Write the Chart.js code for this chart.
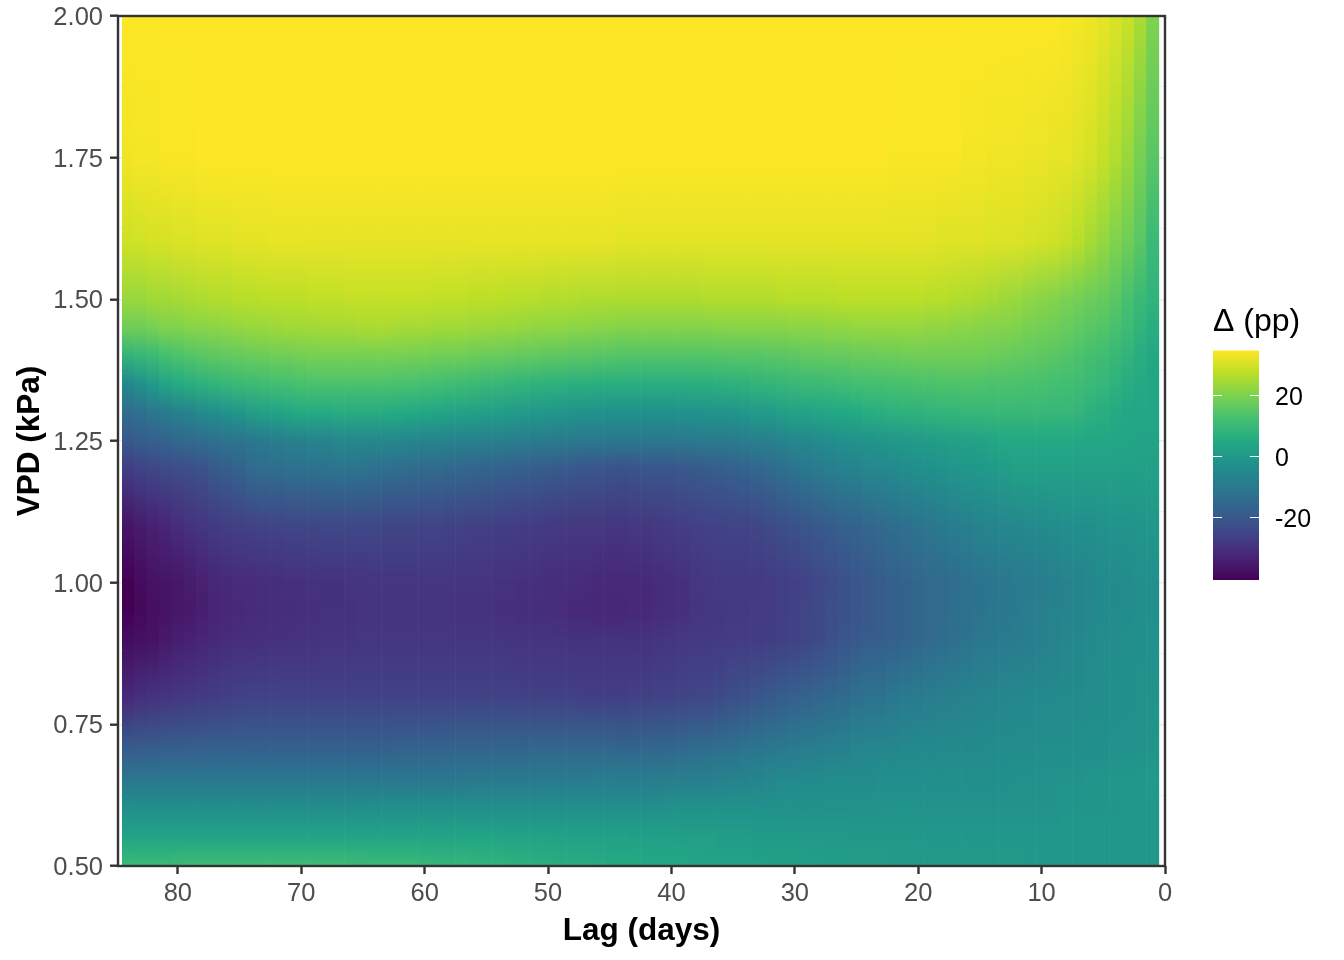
<!DOCTYPE html>
<html>
<head>
<meta charset="utf-8">
<style>
body { margin: 0; background: #fff; }
canvas { position: absolute; }
</style>
<script src="https://cdn.jsdelivr.net/npm/chart.js@4"></script>
</head>
<body>
<canvas id="canvas" width="1344" height="960" style="left:0;top:0"></canvas>
<canvas id="legend" width="154" height="300" style="left:1190px;top:290px"></canvas>
<script>
// lag of each column, left to right
var lags = [84,83,82,81,80,79,78,77,76,75,74,73,72,71,70,69,68,67,66,65,64,63,62,61,60,59,58,57,56,55,54,53,52,51,50,49,48,47,46,45,44,43,42,41,40,39,38,37,36,35,34,33,32,31,30,29,28,27,26,25,24,23,22,21,20,19,18,17,16,15,14,13,12,11,10,9,8,7,6,5,4,3,2,1];

// values, one list per VPD level (pp)
var vpd200 = [34.5,34.5,34.5,34.5,34.5,34.5,34.5,34.5,34.5,34.5, 34.5,34.5,34.5,34.5,34.5,34.5,34.5,34.5,34.5,34.5, 34.5,34.5,34.5,34.5,34.5,34.5,34.5,34.5,34.5,34.5, 34.5,34.5,34.5,34.5,34.5,34.5,34.5,34.5,34.5,34.5, 34.5,34.5,34.5,34.5,34.5,34.5,34.5,34.5,34.5,34.5, 34.5,34.5,34.5,34.5,34.5,34.5,34.5,34.5,34.5,34.5, 34.5,34.5,34.5,34.5,34.5,34.5,34.5,34.5,34.5,34.5, 34.5,34.5,34.5,34.5,34.5,34.5,34,33.5,33,32, 30.5,28.5,25,20];
var vpd175 = [33,33.5,33.5,34,34,34,34.5,34.5,34.5,34.5, 34.5,34.5,34.5,34.5,34.5,34.5,34.5,34.5,34.5,34.5, 34.5,34.5,34.5,34.5,34.5,34.5,34.5,34.5,34.5,34.5, 34.5,34.5,34.5,34.5,34.5,34.5,34.5,34.5,34.5,34.5, 34.5,34.5,34.5,34.5,34.5,34.5,34.5,34.5,34.5,34.5, 34.5,34.5,34.5,34.5,34.5,34.5,34.5,34.5,34.5,34.5, 34.5,34.5,34,34,34,34,34,34,33.5,33.5, 33,33,33,32.5,32.5,32,32,31,30,28, 26,23,19,15];
var vpd160 = [29,29.5,30,30,30.5,30.5,31,31,31,31.5, 31.5,31.5,32,32,32,32,32,32,32,32, 32,32,32,32,32,32,32,32,32,32, 32,32,32,32,32,32,32,32,32,32, 31.5,31.5,31.5,31.5,31.5,31.5,31.5,31.5,31.5,31.5, 31.5,31.5,31.5,31.5,31.5,31.5,31.5,31.5,31.5,31.5, 31.5,31.5,31.5,31.5,31.5,31.5,31,31,31,31, 30.5,30.5,30.5,30,29.5,29,28,26.5,24.5,22.5, 20,18,15,10];
var vpd150 = [23,23,24,24,24.5,25,25.5,26,26,26.5, 26.5,27,27,27,27,27.5,27.5,27.5,28,28, 28,28,28,28,28,27.5,27.5,27.5,27,27, 27,26.5,26.5,26.5,26,26,26,25.5,25.5,25.5, 25.5,25.5,25.5,25.5,25.5,25.5,25.5,26,26,26, 26,26,26,26.5,26.5,26.5,26.5,26.5,27,27, 27,27,27,27,27,26.5,26.5,26,25.5,25, 24.5,23.5,23,22,21,20.5,19.5,18.5,17.5,16.5, 15,12.5,10,8];
var vpd145 = [18,18,19,20,20,21,21,21.5,22,22.5, 23,23,23.5,24,24,24,24.5,24.5,24.5,25, 25,25,24.5,24.5,24.5,24,24,24,23.5,23.5, 23,23,22.5,22,22,22,21.5,21.5,21,21, 20.5,20.5,20.5,20.5,20.5,20.5,20.5,20.5,21,21, 21,21,21,21,21.5,21.5,21.5,22,22,22.5, 22.5,22.5,22.5,22.5,22.5,22,22,21.5,21.5,21, 20.5,20.5,20,19,18.5,18,17,16,15,14, 12.5,10.5,8,6];
var vpd140 = [8,9,10,12,13,14,15,15.5,16,16.5, 17,17.5,18,18,18.5,19,19,19,19,19, 19,19,19,18.5,18.5,18,18,18,17.5,17, 17,16.5,16,16,15.5,15.5,15,15,14.5,14.5, 14,14,14,14,14,14,14,14,14,14.5, 14.5,14.5,15,15,15.5,16,16,16.5,16.5,17, 17,17.5,17.5,18,18,18,18,18,18,18, 17.5,17,16.5,16,15.5,15,14,13,12,11, 9.5,8,6,4];
var vpd135 = [-6,-3,0,3,5,6,7,8,9,10, 10.5,11,11.5,12,12.5,13,13,13,13,13, 13,13,12.5,12.5,12,11.5,11,10.5,10,9.5, 9,8.5,8,7.5,7,7,6.5,6.5,6,6, 6,6,6,6,6,6,6.5,6.5,7,7, 7.5,8,8.5,9,9.5,10,10,10.5,11,11.5, 12,12,12.5,12.5,13,13,13.5,13.5,13.5,13.5, 13,13,13,12.5,12.5,12,11.5,11,10,9, 7.5,6,5,4];
var vpd130 = [-14,-13,-11,-10,-8,-7,-5,-4,-2,-1, 1,2,3,4,5,5,5,5.5,5.5,5.5, 5.5,5,5,4.5,4,3.5,3,2.5,2,1.5, 1,0.5,0,-0.5,-1,-1.5,-2,-2.5,-2.5,-3, -3,-3,-3,-3,-3,-2.5,-2.5,-2,-2,-1.5, -1,0,0.5,1.5,2.5,3,3.5,4,4.5,5, 6,6.5,7,7.5,7.5,8,8.5,8.5,9,9, 9.5,9.5,9.5,9.5,9.5,9,9,8.5,7,6, 5,4,3.5,3.5];
var vpd125 = [-20,-19,-18,-17,-16,-15,-14,-13,-12,-12, -11,-10,-9,-8,-8,-7,-7,-6,-6,-6, -6,-6,-6,-6.5,-7,-7,-7.5,-8,-8,-8.5, -8.5,-9,-9,-9.5,-9.5,-10,-10,-10.5,-10.5,-11, -11,-11,-11,-11,-10.5,-10.5,-10,-10,-10,-9.5, -9,-8.5,-8,-7,-6,-5.5,-5,-4,-3,-2.5, -2,-1.5,-1,-0.5,0,0.5,1,1.5,2,2.5, 3.5,4.5,4.5,4.5,4.5,4.5,4.5,4.5,4,4, 3.5,3.5,3,3];
var vpd120 = [-27,-26,-25,-24,-23.5,-23,-22,-20,-19,-17, -15,-14,-14,-13,-13,-12.5,-12.5,-12,-12,-12.5, -13,-13.5,-14,-14.5,-15,-15,-15.5,-16,-16.5,-17, -17.5,-18,-18.5,-19,-19.5,-20,-20.5,-21,-21,-21.5, -22,-21.5,-21,-21,-21,-20.5,-20,-19.5,-19,-18, -17,-16,-15,-13.5,-12,-10.5,-9.5,-8.5,-7.5,-7, -6,-5.5,-5,-4,-3.5,-3,-2,-1.5,-1,-0.5, 0,1,2,2,2,2,2,2,2,2, 2,2,2,2];
var vpd110 = [-36.5,-35,-34,-33,-31.5,-30,-29,-28,-27,-26.5, -26,-25.5,-25.5,-25,-25,-25,-24.5,-24.5,-24.5,-24.5, -24.5,-25,-25,-25,-25.5,-25.5,-26,-26,-26.5,-26.5, -27,-27,-27.5,-27.5,-28,-28,-28.5,-28.5,-28.5,-29, -29,-28.5,-28.5,-28,-27.5,-27,-26.5,-26,-26,-25.5, -25.5,-25,-24,-23,-22,-21,-20,-19,-18,-17, -16,-15,-14,-13,-12,-11,-10,-9,-8,-7, -6.5,-6,-5.5,-5,-4.5,-4,-3.5,-3,-3,-2.5, -2,-2,-1.5,-1];
var vpd100 = [-40.5,-38.5,-37,-36.5,-36,-35,-34,-32.5,-32,-31.5, -31.5,-31,-31,-30.5,-30.5,-30,-30,-30,-29.5,-29.5, -29,-29,-29,-29,-29,-29,-29,-29.5,-29.5,-29.5, -30,-30,-30.5,-30.5,-31,-31,-31.5,-31.5,-32,-32, -32,-32,-32,-31.5,-31,-30.5,-29,-28.5,-28,-28, -28,-28,-27.5,-27,-26.5,-25.5,-24.5,-23.5,-22,-21, -20,-19,-18,-17,-16,-15,-14.5,-14,-13,-12, -11.5,-11,-10,-9.5,-9,-8,-7,-6.5,-6,-5, -4.5,-4,-3.5,-3];
var vpd095 = [-40.5,-39,-37.5,-37,-36,-35.5,-34.5,-33,-32.5,-32, -31.5,-31.5,-31,-31,-30.5,-30.5,-30,-30,-30,-29.5, -29.5,-29.5,-29.5,-29.5,-29.5,-29.5,-29.5,-30,-30,-30, -30.5,-30.5,-31,-31,-31,-31.5,-32,-32,-32.5,-32.5, -32.5,-32,-32,-31.5,-31,-30.5,-29.5,-29,-28.5,-28, -28,-27.5,-27.5,-27,-26,-25,-24,-23,-22,-21, -20,-19,-18,-17,-16,-15,-14.5,-13.5,-13,-12, -11,-10.5,-10,-9,-8.5,-7.5,-7,-6.5,-5.5,-5, -4.5,-4,-3.5,-3];
var vpd090 = [-38,-37.5,-37,-35.5,-34.5,-34,-33,-32,-31.5,-31, -31,-30.5,-30.5,-30,-30,-30,-29.5,-29.5,-29.5,-29, -29,-29,-29,-29,-29,-29,-29,-29,-29,-29, -29,-29.5,-29.5,-29.5,-29.5,-29.5,-30,-30,-30,-30, -30,-30,-30,-29.5,-29,-28.5,-28,-28,-28,-27.5, -27.5,-27.5,-27,-26.5,-26,-25,-24,-22.5,-21,-20, -19,-18.5,-18,-17,-16,-15,-14,-13,-12,-11, -10.5,-10,-9.5,-9,-8,-7,-6,-5.5,-5,-4, -4,-3.5,-3,-2.5];
var vpd080 = [-32,-31,-30,-29.5,-29,-28.5,-28,-27.5,-27,-26.5, -26,-26,-26,-26,-26,-26,-26,-26,-26,-26, -26,-26,-26,-26,-26,-26,-26,-26,-26,-26, -26,-26,-26.5,-26.5,-26.5,-26.5,-26.5,-27,-27,-27, -27,-26.5,-26.5,-26,-26,-25.5,-25,-25,-24,-23, -22,-21,-20,-19,-18,-17.5,-16.5,-15.5,-14.5,-13.5, -12.5,-12,-11,-10,-9.5,-9,-8.5,-8,-7.5,-7, -6.5,-6,-5.5,-5.5,-5,-5,-4.5,-4.5,-4,-4, -3.5,-3,-2.5,-2];
var vpd070 = [-18,-18,-18,-17.5,-17.5,-17.5,-17,-17,-17,-17, -17,-17,-17,-17,-17,-17,-17,-17,-17,-17, -17,-17,-16.5,-16.5,-16.5,-16.5,-16,-16,-16,-16, -15.5,-15.5,-15.5,-15,-15,-15,-15,-15,-15,-15, -15.5,-15.5,-15,-15,-14.5,-14,-13.5,-13,-12.5,-12, -11,-10.5,-10,-9.5,-9,-8.5,-8,-7.5,-7,-6, -6,-5.5,-5.5,-5,-5,-5,-4.5,-4.5,-4.5,-4.5, -4,-4,-4,-4,-3.5,-3.5,-3.5,-3,-3,-3, -2.5,-2.5,-2,-1.5];
var vpd065 = [-10.5,-10.5,-10.5,-10.5,-10.5,-10.5,-10.5,-10.5,-10.5,-10.5, -10.5,-10.5,-10.5,-10.5,-10.5,-10.5,-10.5,-10.5,-10.5,-10.5, -10.5,-10.5,-10.5,-10.5,-10.5,-10.5,-10.5,-10.5,-10,-10, -10,-10,-10,-10,-9.5,-9.5,-9.5,-9.5,-9,-9, -9,-9,-9,-9,-8.5,-8.5,-8,-8,-7.5,-7, -7,-6.5,-6,-5,-5,-4.5,-4.5,-4,-4,-4, -4,-3.5,-3.5,-3.5,-3.5,-3,-3,-3,-3,-3, -3,-3,-2.5,-2.5,-2.5,-2,-2,-2,-1.5,-1.5, -1,-1,-0.5,0];
var vpd060 = [-3.5,-3.5,-3.5,-3.5,-3.5,-3.5,-3.5,-3.5,-3.5,-3.5, -3.5,-3.5,-3.5,-3.5,-3.5,-3.5,-3.5,-3.5,-3.5,-3.5, -3,-3,-3,-3,-3,-3,-3,-3,-3,-3, -3,-3,-3,-3,-3,-3,-3,-3,-3,-3, -3,-3,-3,-3,-2.5,-2.5,-2.5,-2.5,-2.5,-2.5, -2.5,-2.5,-2.5,-2.5,-2.5,-2.5,-2.5,-2.5,-2.5,-2.5, -2.5,-2,-2,-2,-2,-2,-2,-2,-2,-2, -2,-2,-2,-2,-2,-2,-1.5,-1.5,-1.5,-1.5, -1.5,-1,-1,-1];
var vpd055 = [3.5,3.5,3.5,3.5,3.5,3.5,3.5,3.5,3.5,3.5, 3.5,3.5,3.5,3.5,3.5,3.5,3.5,3.5,3.5,3.5, 3.5,3.5,3.5,3.5,3.5,3.5,3.5,3.5,3.5,3.5, 3.5,3,3,3,3,3,2.5,2.5,2.5,2.5, 2.5,2,2,2,2,1.5,1.5,1.5,1,1, 1,0.5,0.5,0.5,0.5,0,0,0,0,-0.5, -0.5,-0.5,-0.5,-0.5,-0.5,-1,-1,-1,-1,-1, -1,-1,-1,-1,-1,-1,-1,-1,-1,-1, -1,-1,-1,-1];
var vpd050 = [10,10,10,10,10.5,11,11,11,11,11, 11,11,11,11,11,11,11,11,10.5,10.5, 10,10,10,10,9.5,9,9,9,8.5,8, 8,7.5,7,7,6.5,6,6,6,5.5,5, 5,5,4.5,4,4,4,3.5,3,3,3, 3,2.5,2,2,2,2,1.5,1,1,1, 1,1,0.5,0,0,0,0,0,0,0, 0,0,0,-0.5,-0.5,-0.5,-1,-1,-1,-1, -1,-1,-1,-1];

var vpdLevels = [2.0, 1.75, 1.6, 1.5, 1.45, 1.4, 1.35, 1.3, 1.25, 1.2, 1.1, 1.0, 0.95, 0.9, 0.8, 0.7, 0.65, 0.6, 0.55, 0.5];
var vpdRows = [vpd200, vpd175, vpd160, vpd150, vpd145, vpd140, vpd135, vpd130, vpd125, vpd120, vpd110, vpd100, vpd095, vpd090, vpd080, vpd070, vpd065, vpd060, vpd055, vpd050];

var yTicks = [0.5, 0.75, 1.0, 1.25, 1.5, 1.75, 2.0];
var legendTicks = [-20, 0, 20];
var legendMin = -40.6;
var legendMax = 34.5;

var viridis = [[68,1,84],[72,37,118],[65,68,135],[53,96,141],[42,120,142],[33,144,140],[34,168,132],[67,191,113],[122,209,81],[187,223,39],[253,231,37]];

function colorFor(v) {
    var t = (v - legendMin) / (legendMax - legendMin);
    t = Math.max(0, Math.min(1, t)) * (viridis.length - 1);
    var i = Math.min(Math.floor(t), viridis.length - 2);
    var f = t - i;
    var c = [0, 1, 2].map(function (k) {
        return Math.round(viridis[i][k] + (viridis[i + 1][k] - viridis[i][k]) * f);
    });
    return "rgb(" + c.join(",") + ")";
}

// one vertical gradient per column, the stops sit on the y scale
function columnGradient(context) {
    var chart = context.chart;
    var area = chart.chartArea;
    if (!area || context.dataIndex === undefined) return "#000";
    var g = chart.ctx.createLinearGradient(0, area.top, 0, area.bottom);
    for (var r = 0; r < vpdLevels.length; r++) {
        var p = (chart.scales.y.getPixelForValue(vpdLevels[r]) - area.top) / (area.bottom - area.top);
        g.addColorStop(Math.max(0, Math.min(1, p)), colorFor(vpdRows[r][context.dataIndex]));
    }
    return g;
}

var panelBorder = {
    id: "panelBorder",
    afterDatasetsDraw: function (chart) {
        var a = chart.chartArea;
        var ctx = chart.ctx;
        ctx.save();
        ctx.strokeStyle = "#333333";
        ctx.lineWidth = 2.4;
        ctx.strokeRect(a.left, a.top, a.right - a.left, a.bottom - a.top);
        ctx.restore();
    }
};

var legendTickMarks = {
    id: "legendTickMarks",
    afterDatasetsDraw: function (chart) {
        var a = chart.chartArea;
        var ctx = chart.ctx;
        ctx.save();
        ctx.strokeStyle = "#ffffff";
        ctx.lineWidth = 1;
        legendTicks.forEach(function (v) {
            var y = Math.round(chart.scales.y.getPixelForValue(v)) + 0.5;
            ctx.beginPath();
            ctx.moveTo(a.left, y);
            ctx.lineTo(a.left + 9, y);
            ctx.moveTo(a.right - 9, y);
            ctx.lineTo(a.right, y);
            ctx.stroke();
        });
        ctx.restore();
    }
};

var fontName = "'Liberation Sans', Arial, sans-serif";

window.myChart = new Chart(document.getElementById("canvas").getContext("2d"), {
    type: "bar",
    data: {
        datasets: [{
            data: lags.map(function (l) { return { x: l, y: [0.5, 2.0] }; }),
            backgroundColor: columnGradient,
            borderWidth: 0,
            barPercentage: 1,
            categoryPercentage: 1
        }]
    },
    options: {
        responsive: false,
        animation: false,
        events: [],
        layout: { autoPadding: false, padding: { top: 16, right: 179, left: 0, bottom: 0 } },
        plugins: { legend: { display: false }, tooltip: { enabled: false } },
        scales: {
            x: {
                type: "linear",
                reverse: true,
                offset: false,
                min: 0,
                max: 84.85,
                afterFit: function (s) { s.height = 94; s.paddingLeft = 0; s.paddingRight = 0; },
                grid: { offset: false, color: "#EBEBEB", tickColor: "#333333", tickWidth: 2.4, tickLength: 8 },
                border: { display: false },
                ticks: { stepSize: 10, includeBounds: false, maxRotation: 0, color: "#4D4D4D", padding: 5, font: { family: fontName, size: 25.5 } },
                title: { display: true, text: "Lag (days)", color: "#000", padding: { top: 0, bottom: 10 }, font: { family: fontName, size: 31.5, weight: "bold" } }
            },
            y: {
                min: 0.5,
                max: 2.0,
                afterFit: function (s) { s.width = 118; s.paddingTop = 0; s.paddingBottom = 0; },
                afterBuildTicks: function (s) {
                    s.ticks = [];
                    yTicks.forEach(function (v, i) {
                        s.ticks.push({ value: v, major: true });
                        if (i < yTicks.length - 1) s.ticks.push({ value: v + 0.125, major: false });
                    });
                },
                grid: {
                    color: "#EBEBEB",
                    lineWidth: function (c) { return c.tick && c.tick.major ? 1.4 : 0.7; },
                    tickColor: function (c) { return c.tick && c.tick.major ? "#333333" : "rgba(0,0,0,0)"; },
                    tickWidth: 2.4,
                    tickLength: 8
                },
                border: { display: false },
                ticks: {
                    autoSkip: false,
                    maxRotation: 0,
                    color: "#4D4D4D",
                    padding: 7,
                    labelOffset: 2,
                    font: { family: fontName, size: 25.5 },
                    callback: function (v) { return yTicks.indexOf(v) >= 0 ? v.toFixed(2) : ""; }
                },
                title: { display: true, text: "VPD (kPa)", color: "#000", padding: { top: 11, bottom: 0 }, font: { family: fontName, size: 31.5, weight: "bold" } }
            }
        }
    },
    plugins: [panelBorder]
});

window.myLegend = new Chart(document.getElementById("legend").getContext("2d"), {
    type: "bar",
    data: {
        labels: ["pp"],
        datasets: [{
            data: [[legendMin, legendMax]],
            backgroundColor: function (context) {
                var a = context.chart.chartArea;
                if (!a) return "#000";
                var g = context.chart.ctx.createLinearGradient(0, a.bottom, 0, a.top);
                viridis.forEach(function (c, i) {
                    g.addColorStop(i / (viridis.length - 1), "rgb(" + c.join(",") + ")");
                });
                return g;
            },
            borderWidth: 0,
            barPercentage: 1,
            categoryPercentage: 1
        }]
    },
    options: {
        responsive: false,
        animation: false,
        events: [],
        layout: { autoPadding: false, padding: { left: 23, right: 0, top: 0, bottom: 10 } },
        plugins: {
            legend: { display: false },
            tooltip: { enabled: false },
            title: { display: true, text: "Δ (pp)", align: "start", color: "#000", padding: { top: 13, bottom: 9 }, font: { family: fontName, size: 32, weight: "normal" } }
        },
        scales: {
            x: { display: false },
            y: {
                position: "right",
                min: legendMin,
                max: legendMax,
                afterFit: function (s) { s.width = 85; s.paddingTop = 0; s.paddingBottom = 0; },
                afterBuildTicks: function (s) { s.ticks = legendTicks.map(function (v) { return { value: v }; }); },
                grid: { display: false },
                border: { display: false },
                ticks: { color: "#000", padding: 8, labelOffset: 3, font: { family: fontName, size: 25 } }
            }
        }
    },
    plugins: [legendTickMarks]
});
</script>
</body>
</html>
